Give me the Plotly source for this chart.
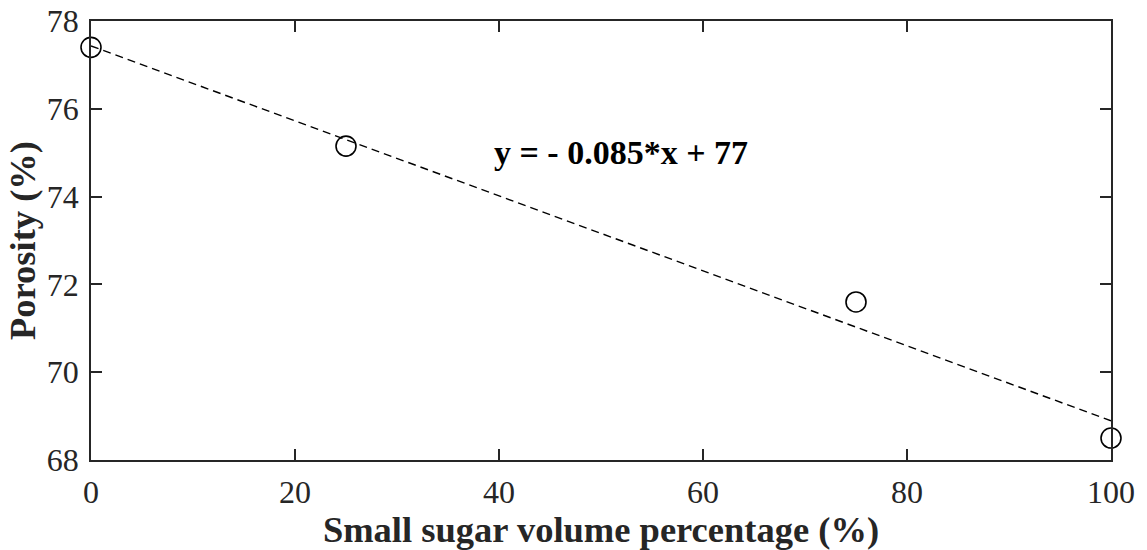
import numpy as np
import plotly.graph_objects as go

# Porosity measured against the share of small sugar particles
small_sugar_pct = [0, 25, 75, 100]
porosity_pct = [77.4, 75.15, 71.6, 68.5]

x_ticks = [0, 20, 40, 60, 80, 100]
y_ticks = [68, 70, 72, 74, 76, 78]

# Least-squares linear fit through the measurements
slope, intercept = np.polyfit(small_sugar_pct, porosity_pct, 1)
fit_x = np.array([0, 100])
fit_y = slope * fit_x + intercept
sign = "-" if slope < 0 else "+"
eq_text = f"y = {sign} {abs(slope):.3f}*x + {intercept:.0f}"

FONT = "Liberation Serif, Times New Roman, serif"
AX = "#262626"

fig = go.Figure()
fig.add_trace(go.Scatter(
    x=fit_x, y=fit_y, mode="lines",
    line=dict(color="black", width=1.4, dash="8px,5px"),
    showlegend=False, hoverinfo="skip",
))
fig.add_trace(go.Scatter(
    x=small_sugar_pct, y=porosity_pct, mode="markers",
    marker=dict(symbol="circle-open", size=20, color="black",
                line=dict(color="black", width=1.6)),
    cliponaxis=False, showlegend=False,
))

fig.add_annotation(
    x=52, y=75.0, xref="x", yref="y", text=f"<b>{eq_text}</b>",
    showarrow=False, xanchor="center", yanchor="middle",
    font=dict(family=FONT, size=34, color="black"),
)

axis_common = dict(
    showgrid=False, zeroline=False, showline=True, linecolor=AX, linewidth=1.5,
    mirror="ticks", ticks="inside", ticklen=11, tickwidth=1.5, tickcolor=AX,
    tickfont=dict(family=FONT, size=32, color=AX), automargin=False,
)

fig.update_xaxes(
    range=[0, 100], tickvals=x_ticks, ticklabelstandoff=3,
    title=dict(text="<b>Small sugar volume percentage (%)</b>", standoff=0,
               font=dict(family=FONT, size=36.5, color=AX)),
    **axis_common,
)
fig.update_yaxes(
    range=[68, 78], tickvals=y_ticks, ticklabelstandoff=4,
    title=dict(text="<b>Porosity (%)</b>", standoff=0,
               font=dict(family=FONT, size=36.5, color=AX)),
    **axis_common,
)

fig.update_layout(
    width=1147, height=550,
    margin=dict(l=91, r=36, t=21, b=90),
    plot_bgcolor="white", paper_bgcolor="white",
)

fig.write_html("out.html")
